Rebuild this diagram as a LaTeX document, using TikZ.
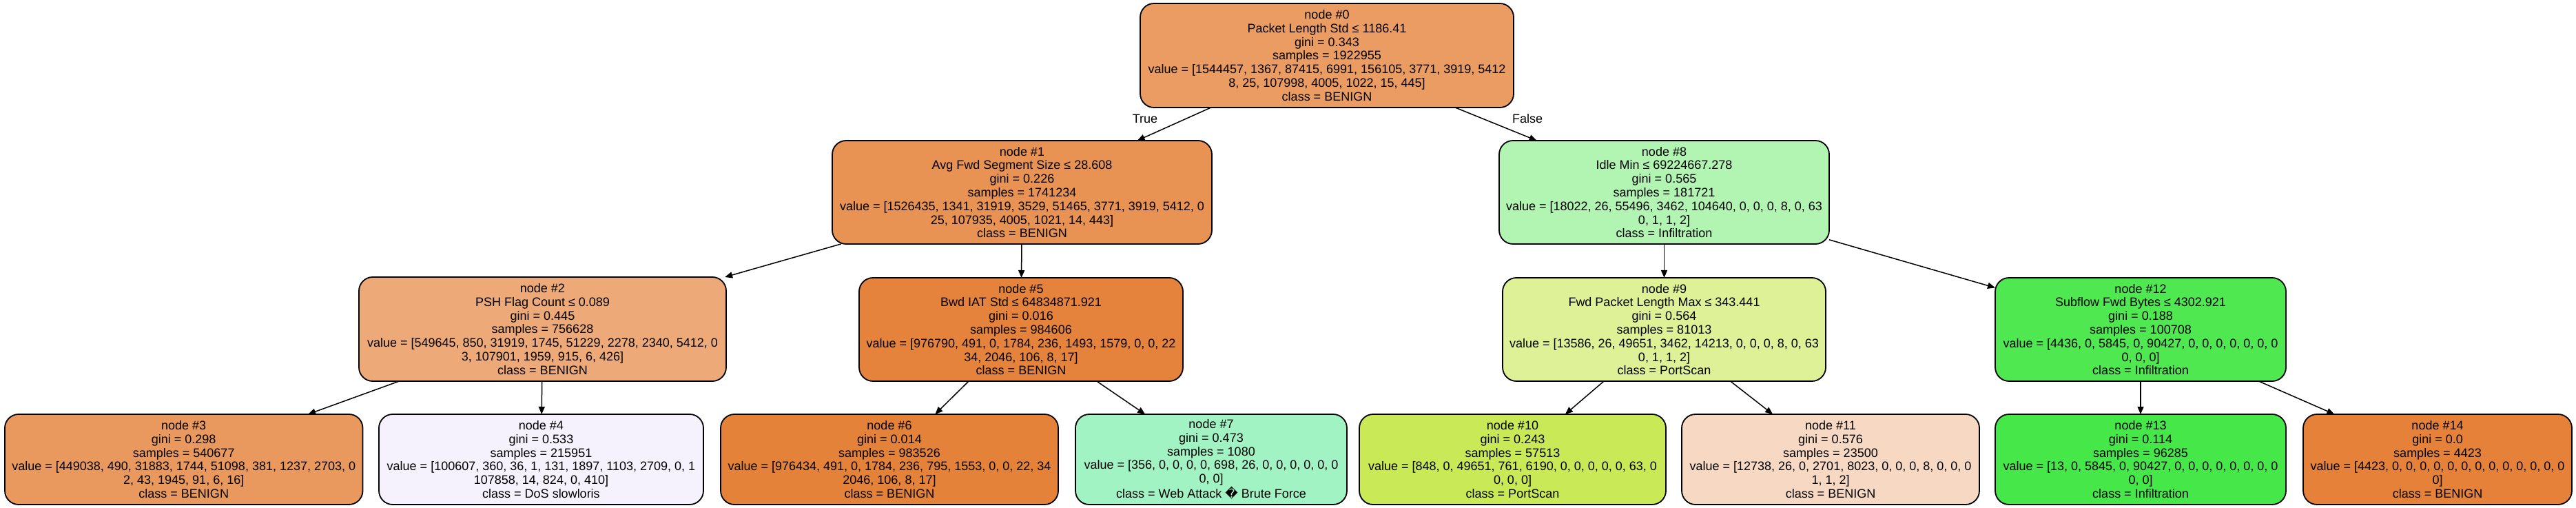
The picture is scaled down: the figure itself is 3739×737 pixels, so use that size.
\documentclass[tikz,border=0pt]{standalone}
\usepackage{fontspec}
\setmainfont{Liberation Sans}
\newfontfamily\dejavu{DejaVu Sans}
\usetikzlibrary{arrows.meta}
\definecolor{c0}{RGB}{235,156,99}
\definecolor{c1}{RGB}{232,146,83}
\definecolor{c2}{RGB}{237,169,120}
\definecolor{c3}{RGB}{234,153,94}
\definecolor{c4}{RGB}{246,242,253}
\definecolor{c5}{RGB}{229,130,59}
\definecolor{c6}{RGB}{229,130,58}
\definecolor{c7}{RGB}{162,243,195}
\definecolor{c8}{RGB}{178,245,179}
\definecolor{c9}{RGB}{222,241,150}
\definecolor{c10}{RGB}{202,233,87}
\definecolor{c11}{RGB}{247,217,195}
\definecolor{c12}{RGB}{79,232,81}
\definecolor{c13}{RGB}{70,231,73}
\definecolor{c14}{RGB}{229,129,57}
\begin{document}
\begin{tikzpicture}[x=0.5pt,y=-0.5pt,
  tn/.style={draw=black, line width=0.9pt, rounded corners=10pt, align=center,
    inner sep=0pt, outer sep=0pt, font=\fontsize{9}{9.9}\selectfont},
  inner/.style={tn, minimum height=75pt},
  leaf/.style={tn, minimum height=65.5pt},
  edge/.style={line width=0.75pt, -{Triangle[length=5.5pt,width=4.5pt]}},
  lbl/.style={font=\fontsize{9}{9.9}\selectfont, inner sep=0pt}]
\useasboundingbox (0,0) rectangle (3739,737);
% level 0
\node[inner, fill=c0, minimum width=271pt, minimum height=75.5pt] (n0) at (1926,80.5)
  {node \#0\\Packet Length Std ≤ 1186.41\\gini = 0.343\\samples = 1922955\\value = [1544457, 1367, 87415, 6991, 156105, 3771, 3919, 5412\\8, 25, 107998, 4005, 1022, 15, 445]\\class = BENIGN};
% level 1
\node[inner, fill=c1, minimum width=275.5pt] (n1) at (1483.5,279)
  {node \#1\\Avg Fwd Segment Size ≤ 28.608\\gini = 0.226\\samples = 1741234\\value = [1526435, 1341, 31919, 3529, 51465, 3771, 3919, 5412, 0\\25, 107935, 4005, 1021, 14, 443]\\class = BENIGN};
\node[inner, fill=c8, minimum width=239.5pt] (n8) at (2415.5,279)
  {node \#8\\Idle Min ≤ 69224667.278\\gini = 0.565\\samples = 181721\\value = [18022, 26, 55496, 3462, 104640, 0, 0, 0, 8, 0, 63\\0, 1, 1, 2]\\class = Infiltration};
% level 2
\node[inner, fill=c2, minimum width=266.5pt, minimum height=75.5pt] (n2) at (787.5,477.5)
  {node \#2\\PSH Flag Count ≤ 0.089\\gini = 0.445\\samples = 756628\\value = [549645, 850, 31919, 1745, 51229, 2278, 2340, 5412, 0\\3, 107901, 1959, 915, 6, 426]\\class = BENIGN};
\node[inner, fill=c5, minimum width=235pt] (n5) at (1482,478)
  {node \#5\\Bwd IAT Std ≤ 64834871.921\\gini = 0.016\\samples = 984606\\value = [976790, 491, 0, 1784, 236, 1493, 1579, 0, 0, 22\\34, 2046, 106, 8, 17]\\class = BENIGN};
\node[inner, fill=c9, minimum width=234.5pt] (n9) at (2415.5,478)
  {node \#9\\Fwd Packet Length Max ≤ 343.441\\gini = 0.564\\samples = 81013\\value = [13586, 26, 49651, 3462, 14213, 0, 0, 0, 8, 0, 63\\0, 1, 1, 2]\\class = PortScan};
\node[inner, fill=c12, minimum width=211pt] (n12) at (3107,478)
  {node \#12\\Subflow Fwd Bytes ≤ 4302.921\\gini = 0.188\\samples = 100708\\value = [4436, 0, 5845, 0, 90427, 0, 0, 0, 0, 0, 0, 0\\0, 0, 0]\\class = Infiltration};
% leaves
\node[leaf, fill=c3, minimum width=259.75pt] (n3) at (266.75,666.5)
  {node \#3\\gini = 0.298\\samples = 540677\\value = [449038, 490, 31883, 1744, 51098, 381, 1237, 2703, 0\\2, 43, 1945, 91, 6, 16]\\class = BENIGN};
\node[leaf, fill=c4, minimum width=235.5pt] (n4) at (785.5,666.5)
  {node \#4\\gini = 0.533\\samples = 215951\\value = [100607, 360, 36, 1, 131, 1897, 1103, 2709, 0, 1\\107858, 14, 824, 0, 410]\\class = DoS slowloris};
\node[leaf, fill=c6, minimum width=245pt] (n6) at (1291,666.5)
  {node \#6\\gini = 0.014\\samples = 983526\\value = [976434, 491, 0, 1784, 236, 795, 1553, 0, 0, 22, 34\\2046, 106, 8, 17]\\class = BENIGN};
\node[leaf, fill=c7, minimum width=197pt] (n7) at (1758,666.5)
  {node \#7\\gini = 0.473\\samples = 1080\\value = [356, 0, 0, 0, 0, 698, 26, 0, 0, 0, 0, 0, 0\\0, 0]\\class = Web Attack {\dejavu �} Brute Force};
\node[leaf, fill=c10, minimum width=222.5pt] (n10) at (2195.5,666.5)
  {node \#10\\gini = 0.243\\samples = 57513\\value = [848, 0, 49651, 761, 6190, 0, 0, 0, 0, 0, 63, 0\\0, 0, 0]\\class = PortScan};
\node[leaf, fill=c11, minimum width=216pt] (n11) at (2657,666.5)
  {node \#11\\gini = 0.576\\samples = 23500\\value = [12738, 26, 0, 2701, 8023, 0, 0, 0, 8, 0, 0, 0\\1, 1, 2]\\class = BENIGN};
\node[leaf, fill=c13, minimum width=211pt] (n13) at (3107,666.5)
  {node \#13\\gini = 0.114\\samples = 96285\\value = [13, 0, 5845, 0, 90427, 0, 0, 0, 0, 0, 0, 0, 0\\0, 0]\\class = Infiltration};
\node[leaf, fill=c14, minimum width=195pt] (n14) at (3538,666.5)
  {node \#14\\gini = 0.0\\samples = 4423\\value = [4423, 0, 0, 0, 0, 0, 0, 0, 0, 0, 0, 0, 0, 0\\0]\\class = BENIGN};
% edges
\draw[edge] (n0) -- (n1);
\draw[edge] (n0) -- (n8);
\draw[edge] (n1) -- (n2);
\draw[edge] (n1) -- (n5);
\draw[edge] (n2) -- (n3);
\draw[edge] (n2) -- (n4);
\draw[edge] (n5) -- (n6);
\draw[edge] (n5) -- (n7);
\draw[edge] (n8) -- (n9);
\draw[edge] (n8) -- (n12);
\draw[edge] (n9) -- (n10);
\draw[edge] (n9) -- (n11);
\draw[edge] (n12) -- (n13);
\draw[edge] (n12) -- (n14);
\node[lbl] (tl) at (1662,172) {True};
\node[lbl] (fl) at (2217,172) {False};
\end{tikzpicture}
\end{document}
